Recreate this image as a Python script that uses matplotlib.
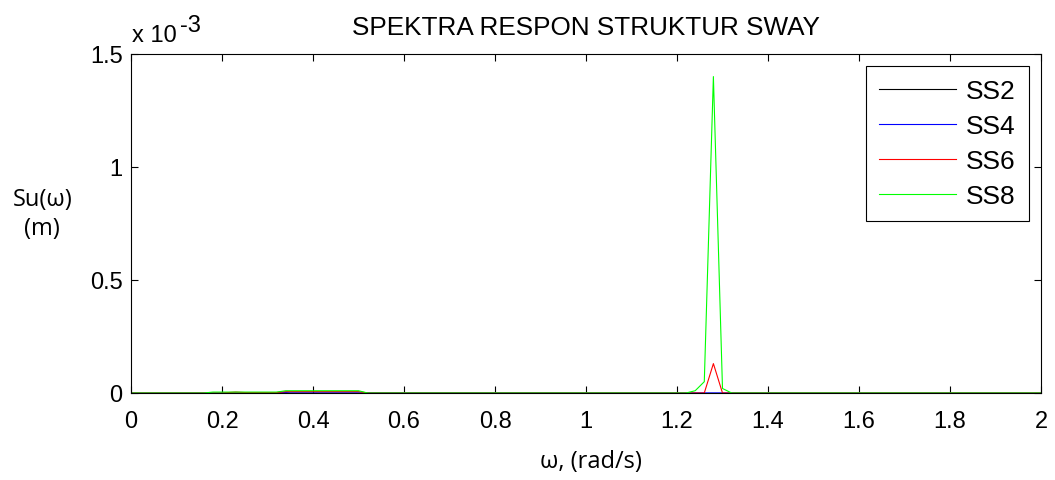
import matplotlib
matplotlib.use("Agg")
import matplotlib.pyplot as plt

# Data (Su in units of 1e-3 m)
w_ss2 = [0, 2.0]
su_ss2 = [0, 0]

w_ss4 = [0, 0.30, 0.33, 0.35, 2.0]
su_ss4 = [0, 0, 0.003, 0.001, 0]

w_ss6 = [0, 0.20, 0.23, 0.25, 0.32, 0.34, 0.50, 0.52, 1.26, 1.28, 1.30, 2.0]
su_ss6 = [0, 0, 0.004, 0.002, 0.002, 0.006, 0.006, 0, 0, 0.13, 0, 0]

w_ss8 = [0, 0.16, 0.18, 0.32, 0.34, 0.50, 0.52, 1.22, 1.24, 1.26, 1.28, 1.30, 1.32, 2.0]
su_ss8 = [0, 0, 0.004, 0.004, 0.01, 0.01, 0, 0, 0.01, 0.05, 1.4, 0.02, 0, 0]

xticks = [0, 0.2, 0.4, 0.6, 0.8, 1, 1.2, 1.4, 1.6, 1.8, 2]
xticklabels = ["0", "0.2", "0.4", "0.6", "0.8", "1", "1.2", "1.4", "1.6", "1.8", "2"]
yticks = [0, 0.5, 1, 1.5]
yticklabels = ["0", "0.5", "1", "1.5"]

plt.rcParams['font.family'] = ['Liberation Sans', 'DejaVu Sans']

fig = plt.figure(figsize=(10.55, 4.81), dpi=100)
ax = fig.add_axes([0.1242, 0.1809, 0.8625, 0.7048])

lw = 0.8
ax.plot(w_ss2, su_ss2, color='black', lw=lw, label='SS2')
ax.plot(w_ss4, su_ss4, color='blue', lw=lw, label='SS4')
ax.plot(w_ss6, su_ss6, color='red', lw=lw, label='SS6')
ax.plot(w_ss8, su_ss8, color='#00ff00', lw=lw, label='SS8')

ax.set_xlim(0, 2)
ax.set_ylim(0, 1.5)
ax.set_xticks(xticks)
ax.set_xticklabels(xticklabels)
ax.set_yticks(yticks)
ax.set_yticklabels(yticklabels)
ax.tick_params(direction='in', top=True, right=True, length=5, width=0.8,
               labelsize=17)
ax.tick_params(axis='x', pad=12)
ax.tick_params(axis='y', pad=6)
for s in ax.spines.values():
    s.set_linewidth(0.8)

ax.set_title("SPEKTRA RESPON STRUKTUR SWAY", fontsize=18.8, pad=14.5)
# MATLAB-style exponent label
ax.text(0.001, 1.038, "x 10", transform=ax.transAxes, fontsize=17,
        ha='left', va='baseline')
ax.text(0.054, 1.068, "-3", transform=ax.transAxes, fontsize=17,
        ha='left', va='baseline')

fig.text(0.040, 0.554, "Su(ω)\n(m)", fontsize=17, family=['Open Sans', 'DejaVu Sans'],
         ha='center', va='center', linespacing=1.23)
fig.text(0.56, 0.04, "ω, (rad/s)", fontsize=17, family=['Open Sans', 'DejaVu Sans'],
         ha='center', va='center')

leg = ax.legend(loc='upper right', bbox_to_anchor=(0.987, 0.965), fontsize=19,
                handlelength=2.9, labelspacing=0.42, fancybox=False,
                edgecolor='black', framealpha=1, borderaxespad=0,
                handletextpad=0.4, borderpad=0.5)
leg.get_frame().set_linewidth(0.8)

fig.savefig("out.png", dpi=100)
